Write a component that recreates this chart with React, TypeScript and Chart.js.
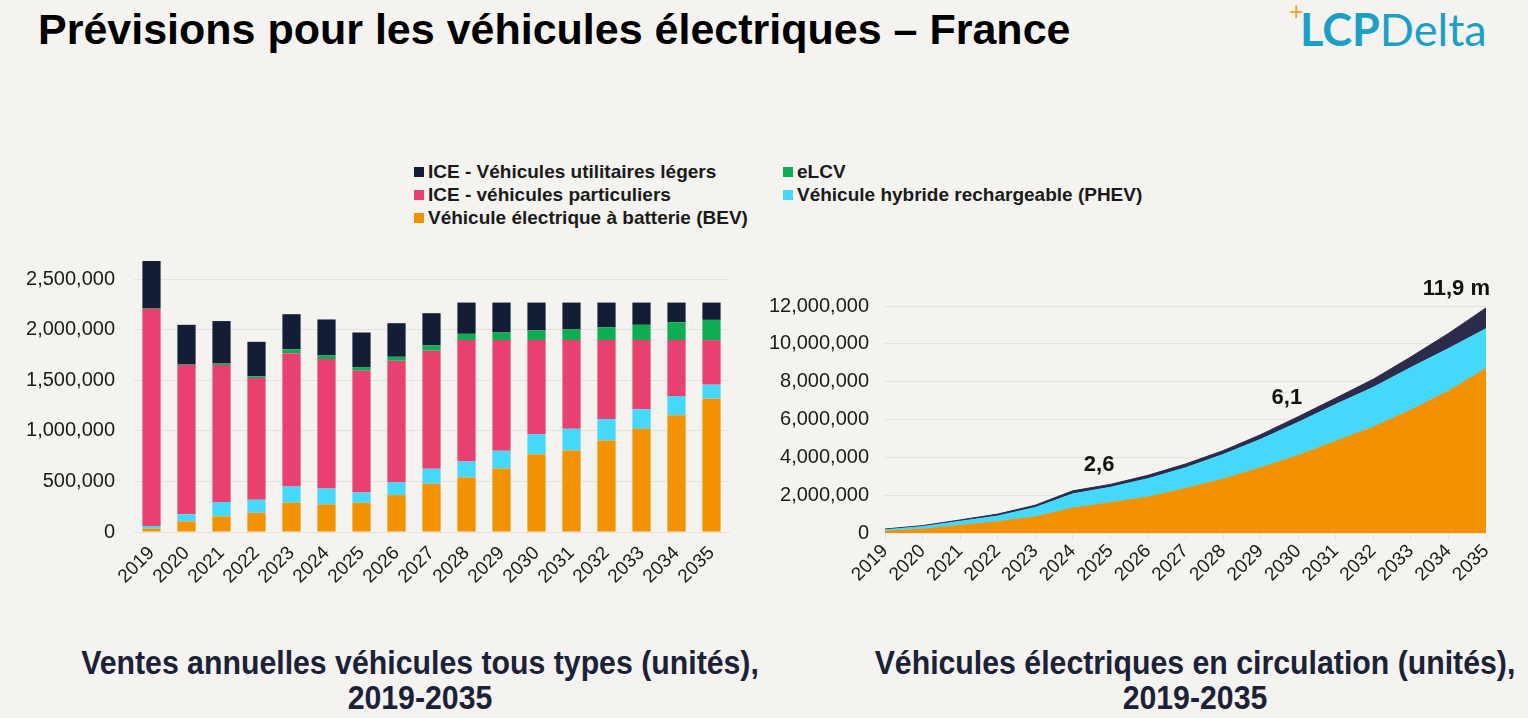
import { useEffect, useRef } from "react";
import { Chart, registerables } from "chart.js";

Chart.register(...registerables);

const FONT = "'Liberation Sans', Arial, sans-serif";

const years = ["2019", "2020", "2021", "2022", "2023", "2024", "2025", "2026", "2027", "2028", "2029", "2030", "2031", "2032", "2033", "2034", "2035"];

// annual sales, units
const bevSales = [35000, 105000, 155000, 191000, 289000, 273000, 289000, 365000, 477000, 539000, 628000, 770000, 806000, 905000, 1020000, 1154000, 1319000];
const phevSales = [25000, 70000, 141000, 128000, 162000, 158000, 102000, 125000, 148000, 158000, 175000, 197000, 214000, 213000, 194000, 191000, 138000];
const icePvSales = [2145000, 1476000, 1355000, 1204000, 1318000, 1279000, 1204000, 1204000, 1168000, 1201000, 1095000, 931000, 878000, 780000, 684000, 553000, 441000];
const elcvSales = [5000, 5000, 15000, 16000, 37000, 36000, 36000, 39000, 52000, 62000, 75000, 95000, 105000, 128000, 151000, 177000, 200000];
const iceLcvSales = [470000, 393000, 420000, 342000, 348000, 356000, 342000, 332000, 319000, 309000, 296000, 276000, 266000, 243000, 220000, 194000, 171000];
const salesTicks = [0, 500000, 1000000, 1500000, 2000000, 2500000];

// EVs on the road, units
const bevFleet = [100000, 200000, 400000, 600000, 850000, 1320000, 1600000, 1900000, 2350000, 2850000, 3450000, 4100000, 4850000, 5600000, 6500000, 7500000, 8700000];
const phevFleet = [70000, 140000, 220000, 300000, 500000, 750000, 820000, 970000, 1100000, 1300000, 1500000, 1750000, 1950000, 2100000, 2250000, 2250000, 2100000];
const elcvFleet = [40000, 50000, 70000, 100000, 120000, 160000, 150000, 180000, 200000, 200000, 250000, 300000, 330000, 430000, 560000, 800000, 1100000];
const fleetTicks = [0, 2000000, 4000000, 6000000, 8000000, 10000000, 12000000];

const fleetCallouts = [
  { index: 6, text: "2,6" },
  { index: 11, text: "6,1" },
  { index: 16, text: "11,9 m" },
];

const C_ICE_LCV = "#131d35";
const C_ICE_PV = "#e8406f";
const C_BEV = "#f39200";
const C_PHEV = "#45d8fb";
const C_ELCV = "#0ead52";
const C_FLEET_TOP = "#2c2b4c";
const GRID = "#e3e2de";

const legendItems = [
  { label: "ICE - Véhicules utilitaires légers", color: C_ICE_LCV },
  { label: "eLCV", color: C_ELCV },
  { label: "ICE - véhicules particuliers", color: C_ICE_PV },
  { label: "Véhicule hybride rechargeable (PHEV)", color: C_PHEV },
  { label: "Véhicule électrique à batterie (BEV)", color: C_BEV },
];

const fmt = (v: number) => v.toLocaleString("en-US");

function SalesChart() {
  const ref = useRef<HTMLCanvasElement | null>(null);

  useEffect(() => {
    if (!ref.current) return;
    const chart = new Chart(ref.current, {
      type: "bar",
      data: {
        labels: years,
        datasets: [
          { label: "BEV", data: bevSales, backgroundColor: C_BEV },
          { label: "PHEV", data: phevSales, backgroundColor: C_PHEV },
          { label: "ICE PV", data: icePvSales, backgroundColor: C_ICE_PV },
          { label: "eLCV", data: elcvSales, backgroundColor: C_ELCV },
          { label: "ICE LCV", data: iceLcvSales, backgroundColor: C_ICE_LCV },
        ],
      },
      options: {
        animation: false,
        responsive: true,
        maintainAspectRatio: false,
        datasets: { bar: { categoryPercentage: 1, barPercentage: 0.52, borderWidth: 0 } },
        layout: { padding: { top: 0, right: 16, bottom: 0, left: 0 } },
        plugins: { legend: { display: false }, tooltip: { enabled: false } },
        scales: {
          x: {
            stacked: true,
            grid: { display: false },
            border: { color: GRID },
            ticks: { autoSkip: false, minRotation: 45, maxRotation: 45, color: "#1a1a1a", font: { family: FONT, size: 19 }, padding: 2 },
            afterFit: (s: any) => { s.height = 70; },
          },
          y: {
            stacked: true,
            min: 0,
            max: 2700000,
            grid: { color: GRID, drawTicks: true, tickLength: 19, tickColor: "transparent" },
            border: { display: false },
            afterBuildTicks: (s: any) => { s.ticks = salesTicks.map((value) => ({ value })); },
            ticks: {
              padding: 0,
              color: "#1a1a1a",
              font: { family: FONT, size: 20 },
              callback: (v: any) => fmt(Number(v)),
            },
            afterFit: (s: any) => { s.width = 134; },
          },
        },
      },
    });
    return () => chart.destroy();
  }, []);

  return <canvas ref={ref} />;
}

function FleetChart() {
  const ref = useRef<HTMLCanvasElement | null>(null);

  useEffect(() => {
    if (!ref.current) return;
    const callouts = {
      id: "callouts",
      afterDatasetsDraw(chart: any) {
        const { ctx, scales } = chart;
        ctx.save();
        ctx.font = `bold 22px ${FONT}`;
        ctx.fillStyle = "#111";
        ctx.textAlign = "right";
        ctx.textBaseline = "bottom";
        fleetCallouts.forEach((c) => {
          const total = bevFleet[c.index] + phevFleet[c.index] + elcvFleet[c.index];
          const x = scales.x.getPixelForValue(c.index) + 4;
          const y = scales.y.getPixelForValue(total) - 8;
          ctx.fillText(c.text, x, y);
        });
        ctx.restore();
      },
    };
    const area = (label: string, data: number[], color: string, fill: any) => ({
      label,
      data,
      backgroundColor: color,
      borderColor: color,
      borderWidth: 1,
      pointRadius: 0,
      tension: 0,
      fill,
    });
    const chart = new Chart(ref.current, {
      type: "line",
      data: {
        labels: years,
        datasets: [
          area("BEV", bevFleet, C_BEV, "origin"),
          area("PHEV", phevFleet, C_PHEV, "-1"),
          area("eLCV", elcvFleet, C_FLEET_TOP, "-1"),
        ],
      },
      options: {
        animation: false,
        responsive: true,
        maintainAspectRatio: false,
        layout: { padding: { top: 36, right: 24, bottom: 0, left: 0 } },
        plugins: { legend: { display: false }, tooltip: { enabled: false } },
        scales: {
          x: {
            offset: false,
            grid: { drawOnChartArea: false, drawTicks: true, tickLength: 7, color: GRID },
            border: { color: GRID },
            ticks: { autoSkip: false, minRotation: 45, maxRotation: 45, color: "#1a1a1a", font: { family: FONT, size: 19 }, padding: 0 },
            afterFit: (s: any) => { s.height = 70; },
          },
          y: {
            stacked: true,
            min: 0,
            max: 12000000,
            grid: { color: GRID, drawTicks: true, tickLength: 16, tickColor: "transparent" },
            border: { display: false },
            afterBuildTicks: (s: any) => { s.ticks = fleetTicks.map((value) => ({ value })); },
            ticks: {
              padding: 0,
              color: "#1a1a1a",
              font: { family: FONT, size: 20 },
              callback: (v: any) => fmt(Number(v)),
            },
            afterFit: (s: any) => { s.width = 125; },
          },
        },
      },
      plugins: [callouts],
    });
    return () => chart.destroy();
  }, []);

  return <canvas ref={ref} />;
}

function CenteredTitle(props: { cx: number; top: number; lines: string[] }) {
  return (
    <div
      style={{
        position: "absolute",
        left: props.cx - 500,
        top: props.top,
        width: 1000,
        textAlign: "center",
        fontFamily: FONT,
        fontSize: 34,
        fontWeight: 700,
        color: "#1b2238",
        lineHeight: "35px",
        transform: "scaleX(0.89)",
        transformOrigin: "center top",
      }}
    >
      {props.lines.map((l) => (
        <div key={l}>{l}</div>
      ))}
    </div>
  );
}

export default function App() {
  useEffect(() => {
    document.body.style.margin = "0";
  }, []);

  return (
    <div style={{ position: "absolute", left: 0, top: 0, width: 1528, height: 718, background: "#f4f3ef", overflow: "hidden" }}>
      <div style={{ position: "absolute", left: 38, top: 5, fontFamily: FONT, fontSize: 43, fontWeight: 700, color: "#000", whiteSpace: "nowrap", lineHeight: 1.15 }}>
        Prévisions pour les véhicules électriques – France
      </div>

      <div style={{ position: "absolute", left: 1289, top: -3, color: "#f0a23a", fontFamily: FONT, fontSize: 25, fontWeight: 400 }}>+</div>
      <div style={{ position: "absolute", left: 1300, top: 4, color: "#1aa0c6", fontFamily: "Lato, 'Open Sans', sans-serif", fontSize: 45, lineHeight: "50px", whiteSpace: "nowrap" }}>
        <span style={{ fontWeight: 700 }}>LCP</span>
        <span style={{ fontWeight: 400 }}>Delta</span>
      </div>

      <div
        style={{
          position: "absolute",
          left: 414,
          top: 160,
          display: "grid",
          gridTemplateColumns: "369px auto",
          fontFamily: FONT,
          fontSize: 19,
          fontWeight: 700,
          color: "#1a1a1a",
        }}
      >
        {legendItems.map((it) => (
          <div key={it.label} style={{ display: "flex", alignItems: "center", whiteSpace: "nowrap", height: 23 }}>
            <span style={{ width: 10, height: 10, background: it.color, marginRight: 4, display: "inline-block" }} />
            {it.label}
          </div>
        ))}
      </div>

      <div style={{ position: "absolute", left: 0, top: 247, width: 745, height: 355 }}>
        <SalesChart />
      </div>

      <div style={{ position: "absolute", left: 760, top: 270, width: 750, height: 333 }}>
        <FleetChart />
      </div>

      <CenteredTitle cx={420} top={645} lines={["Ventes annuelles véhicules tous types (unités),", "2019-2035"]} />
      <CenteredTitle cx={1195} top={645} lines={["Véhicules électriques en circulation (unités),", "2019-2035"]} />
    </div>
  );
}
